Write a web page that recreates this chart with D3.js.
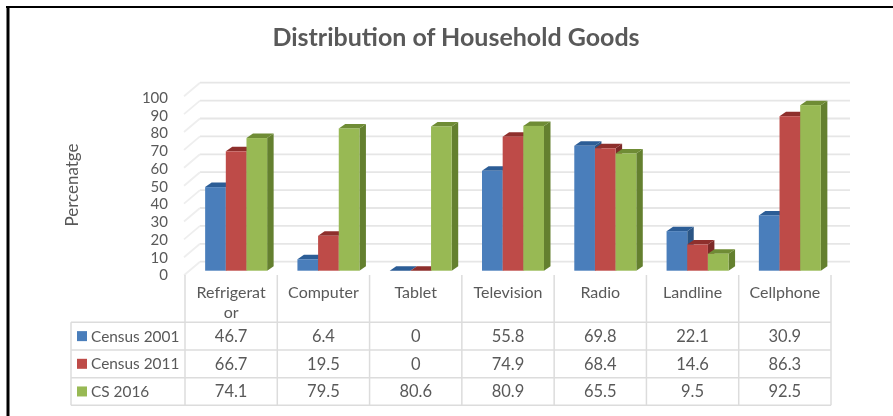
<!DOCTYPE html>
<html><head><meta charset="utf-8">
<script src="https://cdn.jsdelivr.net/npm/d3@7"></script>
<style>html,body{margin:0;padding:0;background:#fff}svg{display:block;filter:blur(0.4px)}text{font-family:Lato,sans-serif;fill:#595959}</style>
</head><body><script>
const categories = ["Refrigerator","Computer","Tablet","Television","Radio","Landline","Cellphone"];
const categoryLines = [["Refrigerat","or"],["Computer"],["Tablet"],["Television"],["Radio"],["Landline"],["Cellphone"]];
const seriesNames = ["Census 2001","Census 2011","CS 2016"];
const census2001 = [46.7,6.4,0,55.8,69.8,22.1,30.9];
const census2011 = [66.7,19.5,0,74.9,68.4,14.6,86.3];
const cs2016 = [74.1,79.5,80.6,80.9,65.5,9.5,92.5];
const valueLabels = [
  ["46.7","6.4","0","55.8","69.8","22.1","30.9"],
  ["66.7","19.5","0","74.9","68.4","14.6","86.3"],
  ["74.1","79.5","80.6","80.9","65.5","9.5","92.5"]];
const yTicks = [0,10,20,30,40,50,60,70,80,90,100];
const frontColors = ["#4a7ebb","#be4b48","#98b954"];
const topColors = ["#2c5d96","#8e2f2c","#6f8c35"];
const sideColors = ["#2a5585","#7d2a28","#64802f"];
const seriesValues = [census2001,census2011,cs2016];

const W=893,H=416;
const svg=d3.select("body").append("svg").attr("width",W).attr("height",H);
svg.append("rect").attr("width",W).attr("height",H).attr("fill","#fff");
// outer frame: top and left only
svg.append("line").attr("x1",6).attr("x2",W).attr("y1",7).attr("y2",7).attr("stroke","#000").attr("stroke-width",2);
svg.append("line").attr("x1",8).attr("x2",8).attr("y1",6).attr("y2",H).attr("stroke","#000").attr("stroke-width",3);

svg.append("text").attr("x",456).attr("y",46).attr("text-anchor","middle")
  .attr("font-size",25).attr("font-weight",700).text("Distribution of Household Goods");

const tableLeft=71, colLeft=185, colRight=831;
const x=d3.scaleBand().domain(categories).range([colLeft,colRight]);
const yBack=d3.scaleLinear().domain([0,100]).range([261.7,82.7]);
const yBar=d3.scaleLinear().domain([0,100]).range([270.7,91.7]);
const yLabel=d3.scaleLinear().domain([0,100]).range([275,97.5]);
const xSeries=d3.scaleBand().domain(seriesNames).range([0,62]);
const groupOffset=(x.bandwidth()-62)/2+5;
const depthX=6.5, depthY=4.5;

// gridlines + left wall
const grid=svg.append("g").attr("stroke","#e6e6e6").attr("stroke-width",1.8).attr("fill","none");
grid.selectAll("line.g").data(yTicks).join("line")
  .attr("x1",200).attr("x2",850).attr("y1",d=>yBack(d)).attr("y2",d=>yBack(d));
grid.selectAll("line.d").data(yTicks).join("line").attr("class","d").attr("stroke","#eeeeee")
  .attr("x1",184).attr("x2",200).attr("y1",d=>yBack(d)+13.5).attr("y2",d=>yBack(d));

// y axis labels
const axis=svg.append("g").attr("transform","translate(168,0)")
  .call(d3.axisLeft(yLabel).tickValues(yTicks).tickSize(0).tickPadding(0));
axis.select(".domain").remove();
axis.selectAll("text").attr("font-size",15).style("font-family","Lato,sans-serif").style("fill","#595959");

svg.append("text").attr("transform","translate(78,185) rotate(-90)").attr("text-anchor","middle")
  .attr("font-size",17).text("Percenatge");

// bars
const bars=svg.append("g");
categories.forEach((c,i)=>{
  seriesNames.forEach((s,k)=>{
    const v=seriesValues[k][i];
    const x0=x(c)+groupOffset+xSeries(s), x1=x0+xSeries.bandwidth();
    const t=yBar(v), b=yBar(0);
    const g=bars.append("g");
    g.append("polygon").attr("fill",sideColors[k])
      .attr("points",[[x1,t],[x1+depthX,t-depthY],[x1+depthX,b-depthY],[x1,b]].join(" "));
    g.append("polygon").attr("fill",topColors[k])
      .attr("points",[[x0,t],[x0+depthX,t-depthY],[x1+depthX,t-depthY],[x1,t]].join(" "));
    g.append("rect").attr("fill",frontColors[k]).attr("x",x0).attr("y",t)
      .attr("width",x1-x0).attr("height",b-t);
  });
});

// data table
const rowY=d3.scaleBand().domain(seriesNames).range([322.3,405.3]);
const tg=svg.append("g").attr("stroke","#dcdcdc").attr("stroke-width",1.5);
categories.forEach(c=>tg.append("line").attr("x1",x(c)).attr("x2",x(c)).attr("y1",275).attr("y2",405.3));
tg.append("line").attr("x1",colRight).attr("x2",colRight).attr("y1",275).attr("y2",405.3);
tg.append("line").attr("x1",tableLeft).attr("x2",tableLeft).attr("y1",322.3).attr("y2",405.3);
[...seriesNames].forEach(s=>tg.append("line").attr("x1",tableLeft).attr("x2",colRight).attr("y1",rowY(s)).attr("y2",rowY(s)));
tg.append("line").attr("x1",tableLeft).attr("x2",colRight).attr("y1",405.3).attr("y2",405.3);

categories.forEach((c,i)=>{
  categoryLines[i].forEach((l,j)=>{
    svg.append("text").attr("x",x(c)+x.bandwidth()/2).attr("y",292+j*20).attr("dy","0.35em")
      .attr("text-anchor","middle").attr("font-size",16).text(l);
  });
});
seriesNames.forEach((s,k)=>{
  const cy=rowY(s)+rowY.bandwidth()/2;
  svg.append("rect").attr("x",77).attr("y",cy-5).attr("width",10).attr("height",10).attr("fill",frontColors[k]);
  svg.append("text").attr("x",91).attr("y",cy).attr("dy","0.35em").attr("font-size",15.4).text(s);
  categories.forEach((c,i)=>{
    svg.append("text").attr("x",x(c)+x.bandwidth()/2).attr("y",cy).attr("dy","0.35em")
      .attr("text-anchor","middle").attr("font-size",16.5).text(valueLabels[k][i]);
  });
});
</script></body></html>
